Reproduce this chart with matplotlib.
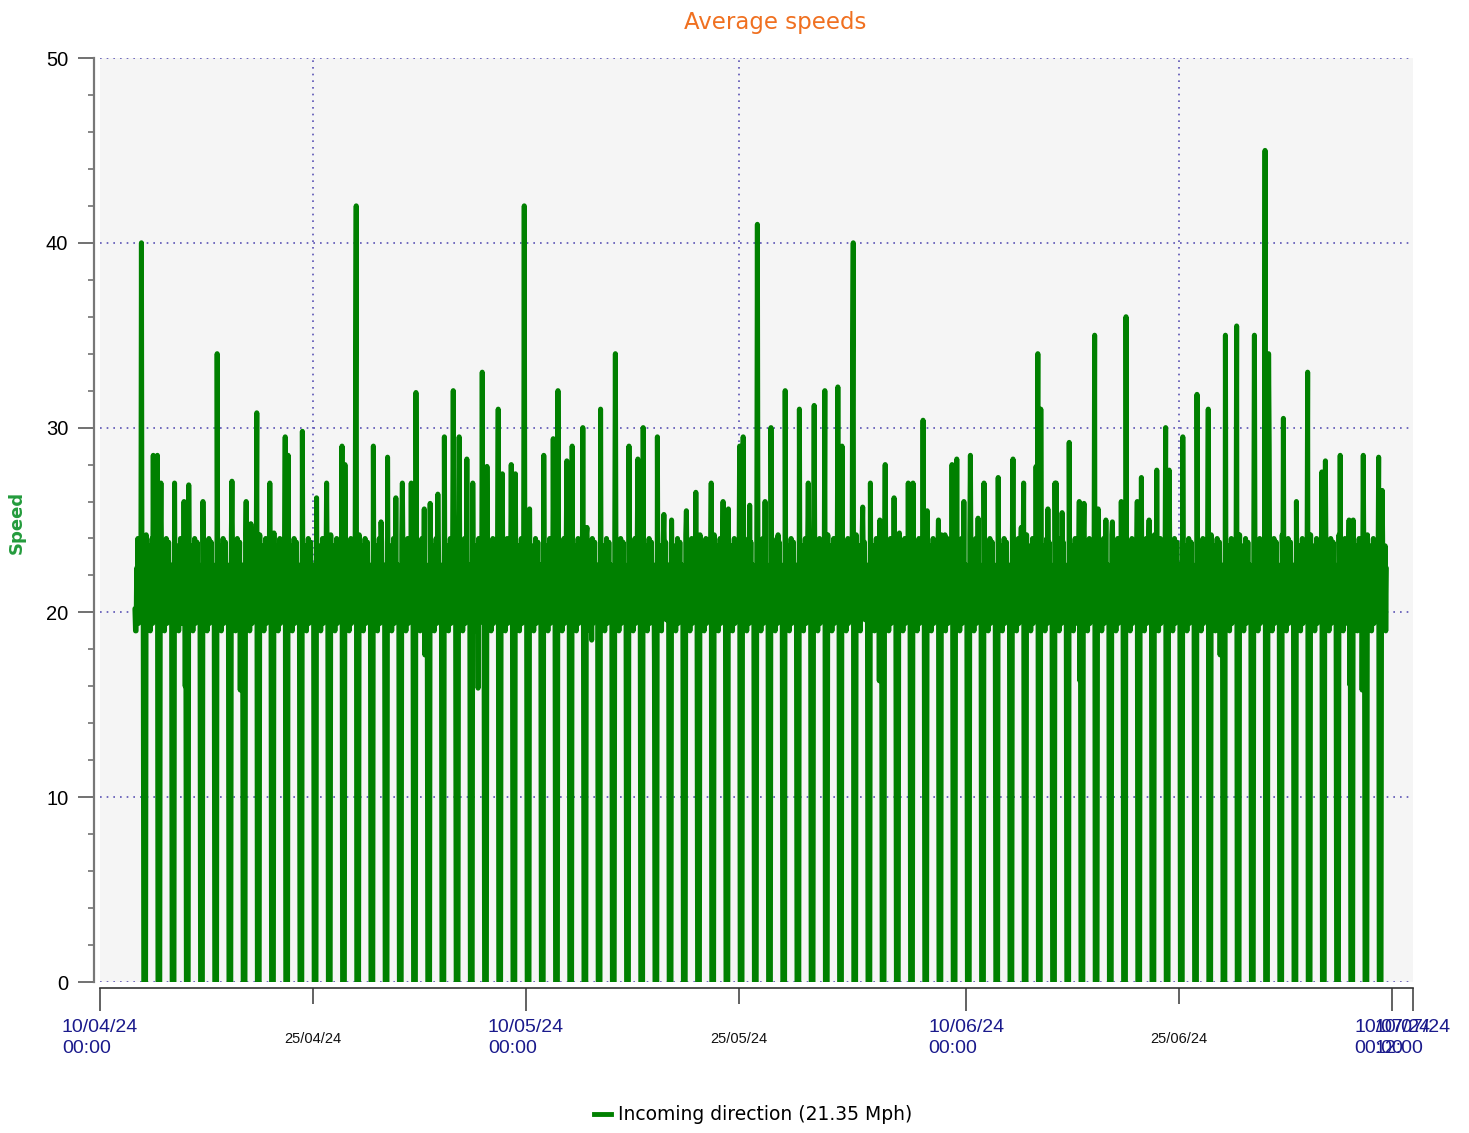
import pandas as pd
import matplotlib
matplotlib.use('Agg')
import matplotlib.pyplot as plt
from matplotlib.lines import Line2D

first_reading = '2024-04-12 11:00'
last_reading = '2024-07-09 14:00'

# typical hourly average speed, 0 = no vehicles in the small hours
hour_profile = [22.4, 21.0, 0, 0, 0, 0, 24.2, 19.6, 22.8, 19.2, 21.8, 20.2,
                23.6, 19.0, 22.4, 20.4, 24.0, 19.4, 22.8, 20.6, 23.8, 19.6, 22.6, 20.8]

spike_times = [
    '04-12 22:00', '04-13 18:00', '04-14 01:00', '04-14 07:00', '04-15 06:00',
    '04-15 22:00', '04-16 06:00', '04-17 06:00', '04-18 06:00', '04-19 07:00',
    '04-20 07:00', '04-20 15:00', '04-21 01:00', '04-21 23:00', '04-22 06:00',
    '04-23 01:00', '04-23 06:00', '04-24 06:00', '04-25 06:00', '04-25 23:00',
    '04-27 01:00', '04-27 06:00', '04-28 00:00', '04-28 01:00', '04-29 06:00',
    '04-29 19:00', '04-30 06:00', '04-30 20:00', '05-01 07:00', '05-01 22:00',
    '05-02 06:00', '05-02 20:00', '05-03 06:00', '05-03 19:00', '05-04 06:00',
    '05-04 21:00', '05-05 07:00', '05-05 20:00', '05-06 06:00', '05-06 22:00',
    '05-07 06:00', '05-08 01:00', '05-08 08:00', '05-08 23:00', '05-09 06:00',
    '05-09 21:00', '05-10 06:00', '05-11 06:00', '05-11 22:00', '05-12 06:00',
    '05-12 21:00', '05-13 06:00', '05-14 00:00', '05-14 07:00', '05-15 06:00',
    '05-16 07:00', '05-17 06:00', '05-17 21:00', '05-18 06:00', '05-19 06:00',
    '05-19 17:00', '05-20 06:00', '05-21 07:00', '05-21 23:00', '05-23 01:00',
    '05-23 21:00', '05-24 06:00', '05-25 01:00', '05-25 07:00', '05-25 18:00',
    '05-26 07:00', '05-26 20:00', '05-27 06:00', '05-27 18:00', '05-28 06:00',
    '05-29 06:00', '05-29 21:00', '05-30 07:00', '05-31 01:00', '05-31 23:00',
    '06-01 06:00', '06-02 00:00', '06-02 01:00', '06-02 17:00', '06-03 06:00',
    '06-03 22:00', '06-04 07:00', '06-04 22:00', '06-05 07:00', '06-05 22:00',
    '06-06 06:00', '06-06 23:00', '06-07 06:00', '06-08 01:00', '06-08 12:00',
    '06-09 00:00', '06-09 08:00', '06-09 20:00', '06-10 07:00', '06-10 20:00',
    '06-11 06:00', '06-12 06:00', '06-13 07:00', '06-13 21:00', '06-14 01:00',
    '06-14 22:00', '06-15 01:00', '06-15 06:00', '06-15 18:00', '06-16 06:00',
    '06-16 08:00', '06-16 18:00', '06-17 06:00', '06-17 23:00', '06-18 07:00',
    '06-19 01:00', '06-19 07:00', '06-19 20:00', '06-20 07:00', '06-20 22:00',
    '06-21 06:00', '06-22 01:00', '06-22 08:00', '06-22 21:00', '06-23 10:00',
    '06-24 01:00', '06-24 07:00', '06-25 06:00', '06-26 06:00', '06-27 01:00',
    '06-28 06:00', '06-29 01:00', '06-30 07:00', '07-01 01:00', '07-01 07:00',
    '07-01 08:00', '07-02 08:00', '07-03 06:00', '07-04 01:00', '07-05 01:00',
    '07-05 07:00', '07-06 08:00', '07-06 23:00', '07-07 06:00', '07-07 23:00',
    '07-09 01:00', '07-09 07:00',
]
spike_values = [
    40.0, 28.5, 28.5, 27.0, 27.0,
    26.0, 26.9, 26.0, 34.0, 27.1,
    26.0, 24.8, 30.8, 27.0, 24.3,
    29.5, 28.5, 29.8, 26.2, 27.0,
    29.0, 28.0, 33.0, 42.0, 29.0,
    24.9, 28.4, 26.2, 27.0, 27.0,
    31.9, 25.6, 25.9, 26.4, 29.5,
    32.0, 29.5, 28.3, 27.0, 33.0,
    27.9, 31.0, 27.5, 28.0, 27.5,
    42.0, 25.6, 28.5, 29.4, 32.0,
    28.2, 29.0, 30.0, 24.6, 31.0,
    34.0, 29.0, 28.3, 30.0, 29.5,
    25.3, 25.0, 25.5, 26.5, 27.0,
    26.0, 25.6, 29.0, 29.5, 25.8,
    41.0, 26.0, 30.0, 24.2, 32.0,
    31.0, 27.0, 31.2, 32.0, 32.2,
    29.0, 34.0, 40.0, 25.7, 27.0,
    25.0, 28.0, 26.2, 24.3, 27.0,
    27.0, 30.4, 25.5, 25.0, 24.2,
    28.0, 28.3, 26.0, 28.5, 25.1,
    27.0, 27.3, 28.3, 24.6, 27.0,
    27.9, 34.0, 31.0, 25.6, 27.0,
    27.0, 25.4, 29.2, 26.0, 25.9,
    35.0, 25.6, 25.0, 24.9, 26.0,
    36.0, 26.0, 27.3, 25.0, 27.7,
    30.0, 27.7, 29.5, 31.8, 31.0,
    35.0, 35.5, 35.0, 45.0, 34.0,
    29.0, 30.5, 26.0, 33.0, 27.6,
    28.2, 28.5, 25.0, 25.0, 28.5,
    28.4, 26.6,
]

dip_times = ['04-12 12:00', '04-16 00:00', '04-19 21:00', '05-02 21:00', '05-06 15:00',
             '05-14 15:00', '05-19 01:00', '06-03 21:00', '06-18 00:00', '06-27 21:00',
             '07-07 00:00', '07-07 21:00']
dip_values = [19.0, 16.0, 15.8, 17.7, 15.9, 18.5, 17.4, 16.3, 16.3, 17.7, 16.1, 15.8]

major_dates = ['2024-04-10', '2024-05-10', '2024-06-10', '2024-07-10']
major_labels = ['10/04/24\n00:00', '10/05/24\n00:00', '10/06/24\n00:00', '10/07/24\n00:00']
minor_dates = ['2024-04-25', '2024-05-25', '2024-06-25']
minor_labels = ['25/04/24', '25/05/24', '25/06/24']
end_label = '10/07/24\n12:00'

times = pd.date_range(first_reading, last_reading, freq='h')
speed = pd.Series([float(hour_profile[t.hour]) for t in times], index=times)
speed.loc[pd.to_datetime(['2024-' + s for s in spike_times])] = spike_values
speed.loc[pd.to_datetime(['2024-' + s for s in dip_times])] = dip_values

fig = plt.figure(figsize=(14.69, 11.33), dpi=100)
ax = fig.add_axes([100 / 1469, 1 - 982 / 1133, 1313 / 1469, 924 / 1133])
ax.set_facecolor('#f5f5f5')

ax.plot(speed.index, speed.values, color='#008000', lw=3.6,
        solid_joinstyle='round', solid_capstyle='round', zorder=3)

x_left = pd.Timestamp(major_dates[0])
x_right = x_left + pd.Timedelta(days=92.46)
ax.set_xlim(x_left, x_right)
ax.set_ylim(0, 50)

for s in ['top', 'right']:
    ax.spines[s].set_visible(False)
ax.spines['left'].set_position(('outward', 4.3))
ax.spines['bottom'].set_position(('outward', 4.3))
ax.spines['left'].set_color('#777777')
ax.spines['left'].set_linewidth(1.6)
ax.spines['bottom'].set_color('#333333')
ax.spines['bottom'].set_linewidth(1.2)

ax.set_yticks(range(0, 51, 10))
ax.set_yticks(range(0, 51, 2), minor=True)
ax.tick_params(axis='y', which='major', length=11.5, width=1.3, color='#666666',
               labelsize=14.5, pad=7)
ax.tick_params(axis='y', which='minor', length=4.3, width=1.1, color='#666666')
for lbl in ax.get_yticklabels():
    lbl.set_family('Liberation Sans')

ax.set_xticks(list(pd.to_datetime(major_dates)) + [x_right])
ax.set_xticklabels(major_labels + [end_label])
ax.set_xticks(pd.to_datetime(minor_dates), minor=True)
ax.set_xticklabels(minor_labels, minor=True)
ax.tick_params(axis='x', which='major', length=16.5, width=1.3, color='#555555',
               labelsize=14, labelcolor='#1a1a8c', pad=5.5)
ax.tick_params(axis='x', which='minor', length=11.5, width=1.3, color='#555555',
               labelsize=10.5, labelcolor='#111111', pad=20)
for lbl in ax.get_xticklabels():
    lbl.set_family('Liberation Sans')
    lbl.set_multialignment('left')
    lbl.set_linespacing(1.35)
for lbl in ax.get_xticklabels(minor=True):
    lbl.set_family('Liberation Sans')

grid_style = dict(linestyle=(0, (1, 3)), color='#5a52b4', linewidth=1.2)
ax.yaxis.grid(True, which='major', **grid_style)
ax.xaxis.grid(True, which='minor', **grid_style)
ax.set_axisbelow(True)

fig.text(775 / 1469, 1 - 22 / 1133, 'Average speeds', color='#f07020',
         fontsize=16.5, ha='center', va='center', family='DejaVu Sans')
fig.text(17 / 1469, 1 - 522 / 1133, 'Speed', rotation=90, color='#239b3c',
         fontsize=13, fontweight='bold', ha='center', va='center', family='DejaVu Sans')

handle = Line2D([], [], color='#008000', lw=3.5)
fig.legend([handle], ['Incoming direction (21.35 Mph)'], loc='center',
           bbox_to_anchor=(753 / 1469, 1 - 1115 / 1133), frameon=False,
           handlelength=0.9, handletextpad=0.4,
           prop={'family': 'DejaVu Sans', 'size': 13.5})

fig.savefig('out.png', dpi=100)
